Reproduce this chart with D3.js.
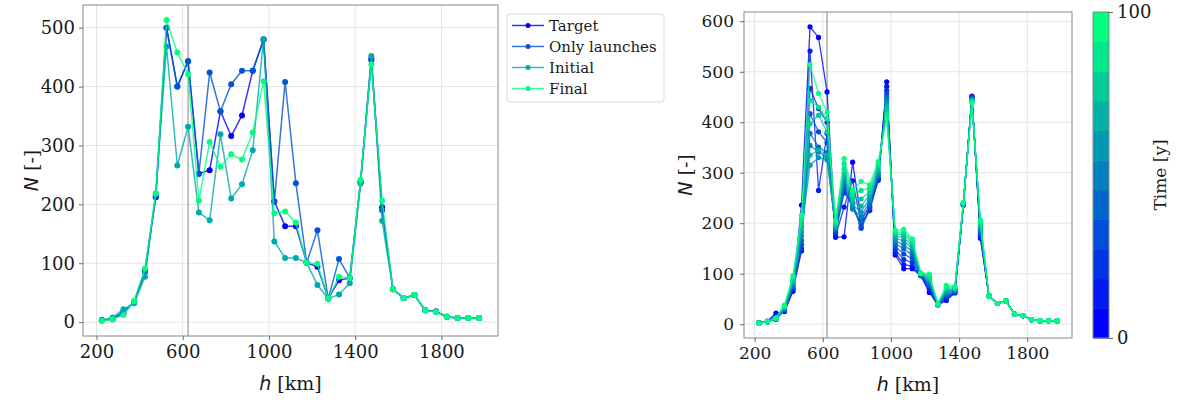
<!DOCTYPE html>
<html>
<head>
<meta charset="utf-8">
<script src="https://cdn.jsdelivr.net/npm/d3@7/dist/d3.min.js"></script>
<style>
  html, body { margin: 0; padding: 0; background: #fff; }
  svg { display: block; }
  text { font-family: "DejaVu Serif", serif; fill: #1a1a1a; }
</style>
</head>
<body>
<svg id="fig" width="1177" height="400"></svg>
<script>
// Altitude bins (km)
const altitudes = [225,275,325,375,425,475,525,575,625,675,725,775,825,875,925,975,1025,1075,1125,1175,
                   1225,1275,1325,1375,1425,1475,1525,1575,1625,1675,1725,1775,1825,1875,1925,1975];

// Left panel: object counts per altitude bin for each scenario
const seriesNames = ["Target", "Only launches", "Initial", "Final"];
const target =       [3,5,15,35,88,212,500,400,443,252,258,358,316,351,427,480,205,163,163,101,94,40,71,75,238,445,195,56,41,46,20,18,9,7,7,7];
const onlyLaunches = [3,6,18,34,85,215,500,400,443,252,424,358,404,427,427,480,205,408,236,101,156,40,107,75,238,448,190,56,41,46,20,18,9,7,7,7];
const initial =      [3,8,22,32,77,218,468,266,332,186,173,319,210,234,292,481,137,109,109,101,63,40,47,66,235,452,172,56,41,46,20,17,9,7,7,7];
const final =        [2,5,12,36,91,219,513,458,421,206,306,264,285,276,322,409,185,188,169,101,99,40,77,75,242,438,206,56,41,46,20,17,9,7,7,7];

// Right panel: evolution of the distribution, one profile every 10 years
const times = [0,10,20,30,40,50,60,70,80,90,100];
const t000 = [3,6,22,25,65,236,589,568,460,172,173,321,209,232,285,480,137,110,110,96,63,38,47,62,236,452,170,56,41,46,20,17,9,7,7,7];
const t010 = [3,5,18,27,68,145,541,265,378,175,232,284,200,225,287,471,142,118,115,97,68,39,50,63,236,451,174,56,41,46,20,17,9,7,7,7];
const t020 = [2,5,10,28,70,150,467,427,400,180,260,240,190,227,289,463,148,128,122,97,72,39,53,64,237,450,178,56,41,46,20,17,9,7,7,7];
const t030 = [2,5,10,29,73,158,417,381,360,184,268,232,194,231,291,456,154,139,130,98,76,40,56,65,237,448,181,56,41,46,20,17,9,7,7,7];
const t040 = [2,5,11,30,76,166,378,351,340,187,276,228,203,237,294,450,160,149,137,98,80,40,59,66,238,447,185,56,41,46,20,17,9,7,7,7];
const t050 = [2,5,11,31,79,175,354,341,330,190,283,230,212,244,297,444,165,157,144,99,84,40,62,68,238,446,188,56,41,46,20,17,9,7,7,7];
const t060 = [2,5,11,32,82,183,315,330,325,192,290,236,222,250,301,438,170,165,150,99,87,40,65,69,239,444,191,56,41,46,20,17,9,7,7,7];
const t070 = [2,5,12,34,85,192,335,345,335,195,298,243,234,256,306,431,174,172,155,100,90,40,68,70,240,443,195,56,41,46,20,17,9,7,7,7];
const t080 = [2,5,12,35,88,200,397,414,381,198,308,250,248,262,311,424,178,178,160,100,93,40,71,72,240,441,198,56,41,46,20,17,9,7,7,7];
const t090 = [2,5,12,36,92,208,443,430,407,201,318,257,265,269,316,416,182,183,165,101,96,40,74,73,241,440,202,56,41,46,20,17,9,7,7,7];
const t100 = [2,5,12,38,96,216,514,457,420,205,328,265,283,276,322,408,186,188,169,101,99,40,77,75,242,438,206,56,41,46,20,17,9,7,7,7];

const xTicks = [200, 600, 1000, 1400, 1800];
const yTicksLeft = [0, 100, 200, 300, 400, 500];
const yTicksRight = [0, 100, 200, 300, 400, 500, 600];
const markerAltitude = 625;

// matplotlib "winter" colormap: blue -> spring green
const winter = t => d3.rgb(0, Math.round(255 * t), Math.round(255 * (1 - 0.5 * t)));

const svg = d3.select("#fig");

function paddedExtent(values) {
  const lo = d3.min(values), hi = d3.max(values), pad = (hi - lo) * 0.05;
  return [lo - pad, hi + pad];
}

function panel(box, yTicks, seriesList, opts) {
  const x = d3.scaleLinear().domain(paddedExtent(altitudes)).range([box.x0, box.x1]);
  const y = d3.scaleLinear().domain(paddedExtent(seriesList.flatMap(s => s.values))).range([box.y1, box.y0]);
  const g = svg.append("g");

  // grid
  g.append("g").selectAll("line").data(xTicks).join("line")
    .attr("x1", d => x(d)).attr("x2", d => x(d)).attr("y1", box.y0).attr("y2", box.y1)
    .attr("stroke", "#e4e4e4").attr("stroke-width", 1);
  g.append("g").selectAll("line").data(yTicks).join("line")
    .attr("y1", d => y(d)).attr("y2", d => y(d)).attr("x1", box.x0).attr("x2", box.x1)
    .attr("stroke", "#e4e4e4").attr("stroke-width", 1);

  // reference altitude
  g.append("line").attr("x1", x(markerAltitude)).attr("x2", x(markerAltitude))
    .attr("y1", box.y0).attr("y2", box.y1).attr("stroke", "#999").attr("stroke-width", 1.2);

  // series
  const line = d3.line().x((d, i) => x(altitudes[i])).y(d => y(d));
  seriesList.forEach(s => {
    g.append("path").datum(s.values).attr("d", line).attr("fill", "none")
      .attr("stroke", s.color).attr("stroke-width", opts.lw).attr("stroke-opacity", 0.8);
    g.append("g").selectAll("circle").data(s.values).join("circle")
      .attr("cx", (d, i) => x(altitudes[i])).attr("cy", d => y(d)).attr("r", opts.r)
      .attr("fill", s.color);
  });

  // frame
  g.append("rect").attr("x", box.x0).attr("y", box.y0)
    .attr("width", box.x1 - box.x0).attr("height", box.y1 - box.y0)
    .attr("fill", "none").attr("stroke", "#888").attr("stroke-width", 1);

  // axes
  const ax = g.append("g").attr("transform", `translate(0,${box.y1})`)
    .call(d3.axisBottom(x).tickValues(xTicks).tickSize(4).tickPadding(5).tickFormat(d3.format("d")));
  const ay = g.append("g").attr("transform", `translate(${box.x0},0)`)
    .call(d3.axisLeft(y).tickValues(yTicks).tickSize(4).tickPadding(opts.yPad).tickFormat(d3.format("d")));
  [ax, ay].forEach(a => {
    a.select(".domain").remove();
    a.selectAll(".tick line").attr("stroke", "#666");
    a.selectAll(".tick text").attr("fill", "#1a1a1a").style("font-size", opts.fs + "px")
      .style("font-family", "DejaVu Serif");
  });

  // axis labels
  const xl = g.append("text").attr("x", (box.x0 + box.x1) / 2).attr("y", opts.xLabelY)
    .attr("text-anchor", "middle").style("font-size", opts.lfs + "px");
  xl.append("tspan").text("h").style("font-family", "DejaVu Sans").style("font-style", "italic");
  xl.append("tspan").text(" [km]");

  const yl = g.append("text")
    .attr("transform", `translate(${opts.yLabelX},${(box.y0 + box.y1) / 2}) rotate(-90)`)
    .attr("text-anchor", "middle").style("font-size", opts.lfs + "px");
  yl.append("tspan").text("N").style("font-family", "DejaVu Sans").style("font-style", "italic");
  yl.append("tspan").text(" [-]");

  return { x, y };
}

// Left panel
const leftSeries = [
  { name: seriesNames[0], values: target, color: winter(0) },
  { name: seriesNames[1], values: onlyLaunches, color: winter(1 / 3) },
  { name: seriesNames[2], values: initial, color: winter(2 / 3) },
  { name: seriesNames[3], values: final, color: winter(1) }
];
panel({ x0: 83, x1: 498, y0: 5, y1: 336 }, yTicksLeft, leftSeries,
      { lw: 1.5, r: 3, fs: 18, lfs: 19, yPad: 4, xLabelY: 390, yLabelX: 38 });

// legend
const lg = svg.append("g");
lg.append("rect").attr("x", 507).attr("y", 14).attr("width", 157).attr("height", 88)
  .attr("rx", 3).attr("fill", "#fff").attr("stroke", "#ddd");
leftSeries.forEach((s, i) => {
  const cy = 25.5 + i * 21;
  lg.append("line").attr("x1", 512).attr("x2", 544).attr("y1", cy).attr("y2", cy)
    .attr("stroke", s.color).attr("stroke-width", 1.5).attr("stroke-opacity", 0.8);
  lg.append("circle").attr("cx", 528).attr("cy", cy).attr("r", 2.5).attr("fill", s.color);
  lg.append("text").attr("x", 549).attr("y", cy).attr("dy", "0.35em")
    .style("font-size", "15px").text(s.name);
});

// Right panel
const rightValues = [t000, t010, t020, t030, t040, t050, t060, t070, t080, t090, t100];
const rightSeries = rightValues.map((v, i) => ({ name: `${times[i]} y`, values: v, color: winter(times[i] / 100) }));
panel({ x0: 744, x1: 1072, y0: 12, y1: 338 }, yTicksRight, rightSeries,
      { lw: 1.3, r: 2.6, fs: 17, lfs: 19, yPad: 6, xLabelY: 391, yLabelX: 692 });

// colour bar, one band per profile
const cb = { x0: 1093, x1: 1109, y0: 12, y1: 338 };
const cbScale = d3.scaleLinear().domain([0, 100]).range([cb.y1, cb.y0]);
const bandH = (cb.y1 - cb.y0) / times.length;
svg.append("g").selectAll("rect").data(times).join("rect")
  .attr("x", cb.x0).attr("width", cb.x1 - cb.x0)
  .attr("y", (t, i) => cb.y1 - (i + 1) * bandH).attr("height", bandH + 0.5)
  .attr("fill", t => winter(t / 100));
svg.append("rect").attr("x", cb.x0).attr("y", cb.y0).attr("width", cb.x1 - cb.x0)
  .attr("height", cb.y1 - cb.y0).attr("fill", "none").attr("stroke", "#888");
const cax = svg.append("g").attr("transform", `translate(${cb.x1},0)`)
  .call(d3.axisRight(cbScale).tickValues([0, 100]).tickSize(4).tickPadding(4));
cax.select(".domain").remove();
cax.selectAll(".tick line").attr("stroke", "#666");
cax.selectAll(".tick text").attr("fill", "#1a1a1a").style("font-size", "18px").style("font-family", "DejaVu Serif");
svg.append("text").attr("transform", `translate(1166,${(cb.y0 + cb.y1) / 2}) rotate(-90)`)
  .attr("text-anchor", "middle").style("font-size", "17px").text("Time [y]");
</script>
</body>
</html>
